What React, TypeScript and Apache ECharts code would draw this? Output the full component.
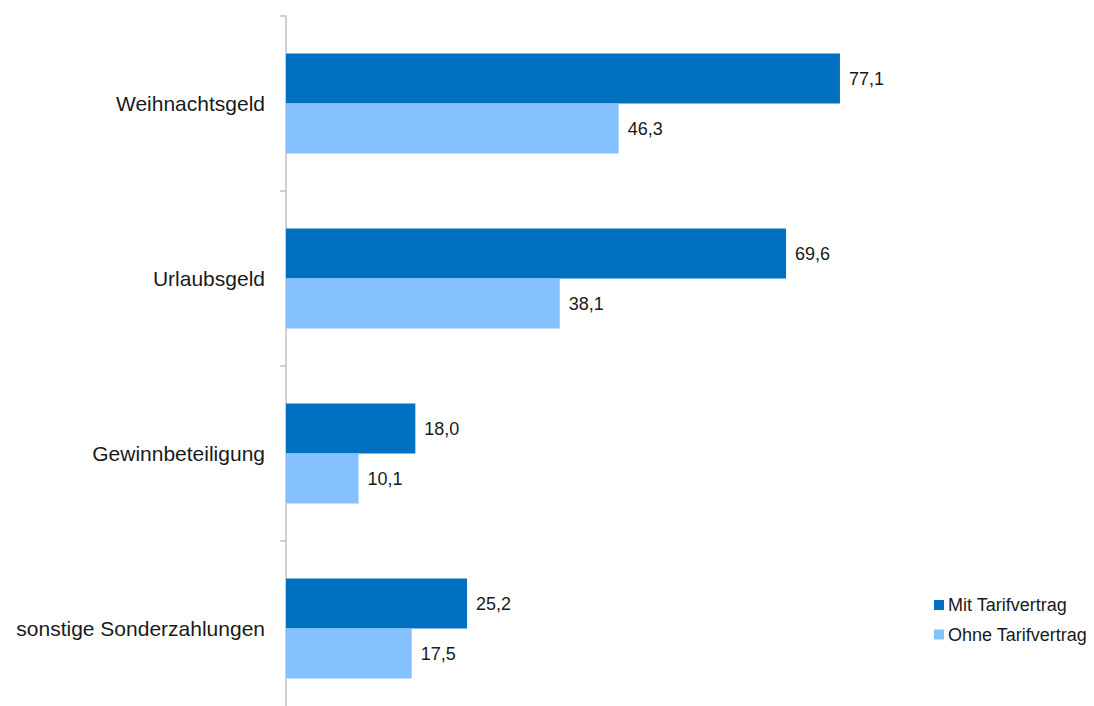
import React, { useEffect, useRef } from "react";
import * as echarts from "echarts";

const categories = ["Weihnachtsgeld", "Urlaubsgeld", "Gewinnbeteiligung", "sonstige Sonderzahlungen"];
const mitTarif = [77.1, 69.6, 18.0, 25.2];
const ohneTarif = [46.3, 38.1, 10.1, 17.5];
const seriesNames = ["Mit Tarifvertrag", "Ohne Tarifvertrag"];

const FONT = "'Liberation Sans', Arial, sans-serif";

export default function App() {
  const ref = useRef<HTMLDivElement>(null);
  useEffect(() => {
    if (!ref.current) return;
    const chart = echarts.init(ref.current, undefined, { renderer: "svg" });
    const fmt = (p: any) => Number(p.value).toFixed(1).replace(".", ",");
    chart.setOption({
      animation: false,
      backgroundColor: "#ffffff",
      textStyle: { fontFamily: FONT },
      grid: { left: 286, width: 718.5, top: 16, height: 700, containLabel: false },
      legend: {
        orient: "vertical",
        left: 929,
        top: 591,
        itemWidth: 10,
        itemHeight: 10,
        itemGap: 11.5,
        icon: "rect",
        textStyle: { fontSize: 18, color: "#1a1a1a", fontFamily: FONT, lineHeight: 18, padding: [0, 0, 0, -1] },
        data: seriesNames,
      },
      xAxis: {
        type: "value",
        min: 0,
        max: 100,
        show: false,
      },
      yAxis: {
        type: "category",
        data: categories,
        inverse: true,
        axisLine: { show: true, lineStyle: { color: "#c0c0c0", width: 1.5 } },
        axisTick: { show: true, length: 6, lineStyle: { color: "#c0c0c0", width: 1.5 } },
        axisLabel: { fontSize: 21, color: "#1a1a1a", margin: 21, fontFamily: FONT },
        splitLine: { show: false },
      },
      series: [
        {
          name: seriesNames[0],
          type: "bar",
          data: mitTarif,
          barWidth: 50,
          barGap: "0%",
          itemStyle: { color: "#0070C0" },
          label: { show: true, position: "right", distance: 9, fontSize: 18, color: "#1a1a1a", formatter: fmt, fontFamily: FONT },
        },
        {
          name: seriesNames[1],
          type: "bar",
          data: ohneTarif,
          barWidth: 50,
          barGap: "0%",
          itemStyle: { color: "#85C1FF" },
          label: { show: true, position: "right", distance: 9, fontSize: 18, color: "#1a1a1a", formatter: fmt, fontFamily: FONT },
        },
      ],
    });
    return () => chart.dispose();
  }, []);
  return <div ref={ref} style={{ position: "fixed", top: 0, left: 0, width: 1094, height: 730 }} />;
}
